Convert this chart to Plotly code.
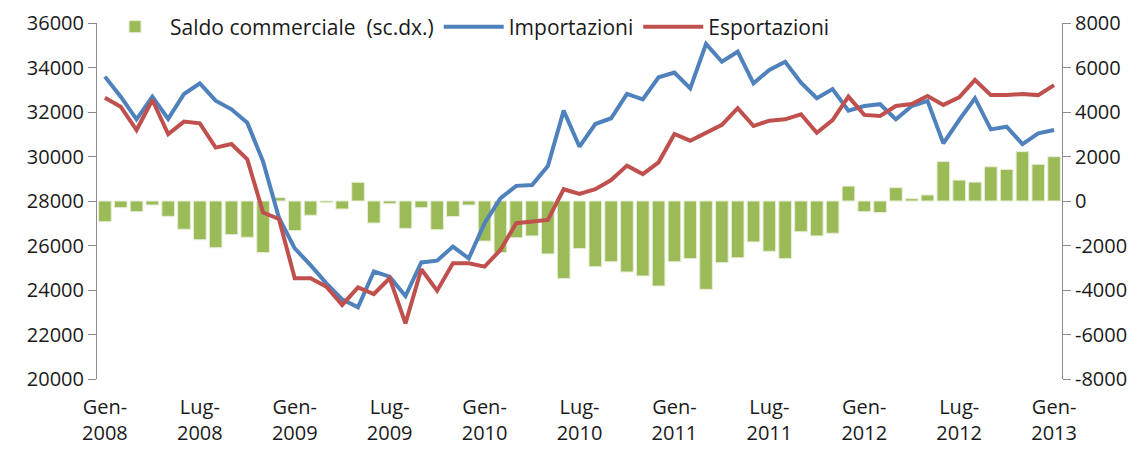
import plotly.graph_objects as go

months = list(range(61))
tick_pos = list(range(0, 61, 6))
tick_text = ["Gen-<br>2008", "Lug-<br>2008", "Gen-<br>2009", "Lug-<br>2009", "Gen-<br>2010",
             "Lug-<br>2010", "Gen-<br>2011", "Lug-<br>2011", "Gen-<br>2012", "Lug-<br>2012",
             "Gen-<br>2013"]

left_ticks = [20000, 22000, 24000, 26000, 28000, 30000, 32000, 34000, 36000]
right_ticks = [-8000, -6000, -4000, -2000, 0, 2000, 4000, 6000, 8000]
right_labels = ["-8000", "-6000", "-4000", "-2000", "0", "2000", "4000", "6000", "8000"]

importazioni = [33590, 32690, 31670, 32690, 31690, 32810, 33290, 32510, 32120, 31520,
                29770, 27250, 25870, 25120, 24300, 23580, 23220, 24830, 24600, 23730,
                25240, 25320, 25950, 25420, 27000, 28120, 28680, 28720, 29570, 32060,
                30440, 31460, 31720, 32810, 32570, 33560, 33770, 33060, 35060, 34260,
                34710, 33290, 33890, 34260, 33320, 32620, 33030, 32060, 32270, 32350,
                31670, 32270, 32500, 30590, 31640, 32620, 31220, 31340, 30560, 31040,
                31190]

esportazioni = [32640, 32240, 31190, 32540, 31010, 31570, 31490, 30400, 30560, 29870,
                27480, 27190, 24530, 24530, 24150, 23330, 24120, 23820, 24530, 22500,
                24930, 23970, 25200, 25200, 25050, 25800, 27000, 27070, 27150, 28530,
                28320, 28530, 28940, 29590, 29210, 29740, 31010, 30710, 31070, 31420,
                32170, 31370, 31610, 31670, 31900, 31070, 31640, 32690, 31870, 31820,
                32270, 32360, 32720, 32320, 32660, 33440, 32760, 32760, 32810, 32760,
                33210]

saldo = [-930, -300, -480, -180, -690, -1270, -1740, -2100, -1510, -1630,
         -2320, 150, -1330, -640, -75, -360, 840, -990, -120, -1230,
         -300, -1290, -700, -180, -1800, -2320, -1650, -1570, -2380, -3480,
         -2140, -2950, -2730, -3190, -3370, -3820, -2730, -2590, -3970, -2770,
         -2550, -1840, -2260, -2590, -1380, -1570, -1450, 670, -480, -520,
         600, 105, 270, 1770, 940, 850, 1540, 1420, 2220, 1650,
         1990]

GREEN = "#9BBB59"
BLUE = "#4F81BD"
RED = "#C0504D"
FONT = "Open Sans"
TXT = "#1a1a1a"

fig = go.Figure()
fig.add_trace(go.Bar(x=months, y=saldo, name="Saldo commerciale  (sc.dx.)",
                     marker=dict(color=GREEN, line=dict(color="#E6EED6", width=1)),
                     yaxis="y"))
fig.add_trace(go.Scatter(x=months, y=importazioni, name="Importazioni", mode="lines",
                         line=dict(color=BLUE, width=4), yaxis="y2"))
fig.add_trace(go.Scatter(x=months, y=esportazioni, name="Esportazioni", mode="lines",
                         line=dict(color=RED, width=4), yaxis="y2"))

axis_common = dict(showgrid=False, zeroline=False, showline=True, linecolor="#8C8C8C",
                   linewidth=1, ticks="outside", ticklen=8, tickcolor="#8C8C8C",
                   automargin=False,
                   tickfont=dict(family=FONT, size=20, color=TXT))

fig.update_layout(
    width=1142, height=450,
    margin=dict(l=89, r=88, t=15, b=79, autoexpand=False),
    paper_bgcolor="white", plot_bgcolor="white",
    bargap=0.2,
    showlegend=True,
    legend=dict(orientation="h", xref="container", yref="container",
                x=92 / 1142, y=1 - 19 / 450, xanchor="left", yanchor="middle",
                bgcolor="rgba(0,0,0,0)", font=dict(family=FONT, size=21, color=TXT),
                itemwidth=60, traceorder="normal"),
    xaxis=dict(range=[-0.5, 60.5], tickmode="array", tickvals=tick_pos, ticktext=tick_text,
               showgrid=False, zeroline=False, showline=False, ticks="",
               automargin=False, ticklabelstandoff=14,
               tickfont=dict(family=FONT, size=20, color=TXT)),
    yaxis=dict(range=[-8000, 8000], tickmode="array", tickvals=right_ticks,
               ticktext=right_labels, side="right", **axis_common),
    yaxis2=dict(range=[20000, 36000], tickmode="array", tickvals=left_ticks,
                ticktext=[str(v) for v in left_ticks], side="left", overlaying="y",
                **axis_common),
)

fig.write_html("out.html")
